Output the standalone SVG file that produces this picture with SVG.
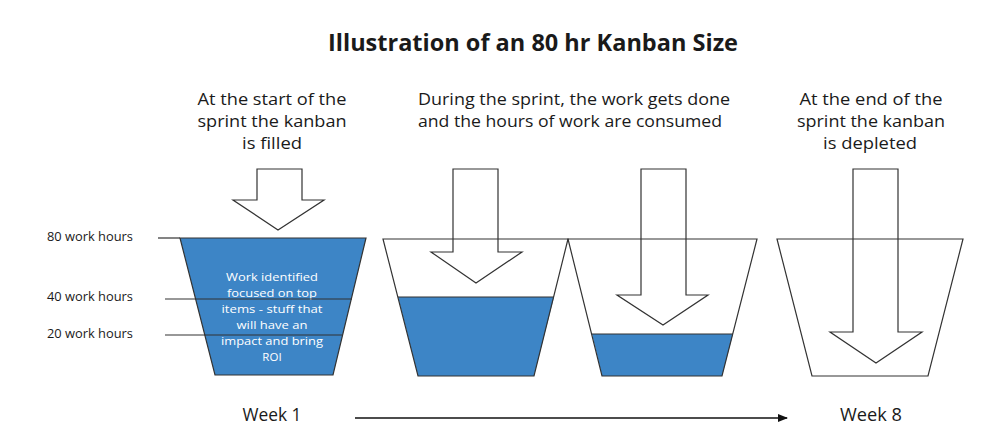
<svg xmlns="http://www.w3.org/2000/svg" width="997" height="438" viewBox="0 0 997 438">
<style>
text{font-family:"Open Sans","Liberation Sans",sans-serif;fill:#1a1a1a}
.title{font-size:24px;font-weight:bold;text-anchor:middle}
.cap{font-size:16px;text-anchor:middle}
.lbl{font-size:12.5px}
.in{font-size:11.5px;fill:#ffffff;text-anchor:middle}
.wk{font-size:18px;text-anchor:middle}
.arr{fill:#ffffff;stroke:#333;stroke-width:1.2}
.bkt{fill:none;stroke:#333;stroke-width:1.2}
.water{fill:#3d85c6}
.ln{stroke:#333;stroke-width:1.2;fill:none}
</style>
<defs>
<marker id="ah" markerWidth="10" markerHeight="8" refX="9" refY="4" orient="auto" markerUnits="userSpaceOnUse">
<path d="M0,0 L10,4 L0,8 Z" fill="#111"/>
</marker>
</defs>
<rect width="997" height="438" fill="#ffffff"/>
<g id="title"><text class="title" x="533" y="51" textLength="410" lengthAdjust="spacingAndGlyphs">Illustration of an 80 hr Kanban Size</text></g>
<g id="caption-start"><text class="cap" x="272" y="105" textLength="149" lengthAdjust="spacingAndGlyphs">At the start of the</text><text class="cap" x="272" y="127" textLength="149" lengthAdjust="spacingAndGlyphs">sprint the kanban</text><text class="cap" x="272" y="149" textLength="60" lengthAdjust="spacingAndGlyphs">is filled</text></g>
<g id="caption-during"><text class="cap" x="574" y="105" textLength="312" lengthAdjust="spacingAndGlyphs">During the sprint, the work gets done</text><text class="cap" x="570" y="127" textLength="304" lengthAdjust="spacingAndGlyphs">and the hours of work are consumed</text></g>
<g id="caption-end"><text class="cap" x="871" y="105" textLength="143" lengthAdjust="spacingAndGlyphs">At the end of the</text><text class="cap" x="871" y="127" textLength="148" lengthAdjust="spacingAndGlyphs">sprint the kanban</text><text class="cap" x="870" y="149" textLength="94" lengthAdjust="spacingAndGlyphs">is depleted</text></g>
<g id="arrow-1"><polygon class="arr" points="257,169 302,169 302,200 324,200 278,230 233,200 257,200"/></g>
<g id="arrow-2"><polygon class="arr" points="453,169 498,169 498,252 522,252 476,283 431,252 453,252"/></g>
<g id="arrow-3"><polygon class="arr" points="641,169 686,169 686,295 708,295 663,325 617,295 641,295"/></g>
<g id="arrow-4"><polygon class="arr" points="853,169 898,169 898,332 922,332 876,363 830,332 853,332"/></g>
<g id="bucket-1">
<polygon points="180,238 366,238 333,375 215,375" fill="#3d85c6" stroke="#333" stroke-width="1.2"/>
<text class="in" x="272" y="281" textLength="92" lengthAdjust="spacingAndGlyphs">Work identified</text>
<text class="in" x="272" y="297" textLength="90" lengthAdjust="spacingAndGlyphs">focused on top</text>
<text class="in" x="272" y="313" textLength="101" lengthAdjust="spacingAndGlyphs">items - stuff that</text>
<text class="in" x="272" y="329" textLength="71" lengthAdjust="spacingAndGlyphs">will have an</text>
<text class="in" x="272" y="345" textLength="102" lengthAdjust="spacingAndGlyphs">impact and bring</text>
<text class="in" x="272" y="361">ROI</text>
</g>
<g id="bucket-2"><polygon class="water" points="398,297 554,297 534,376 418,376"/><line class="ln" x1="398" y1="297" x2="554" y2="297"/><polygon class="bkt" points="383,239 568,239 534,376 418,376"/></g>
<g id="bucket-3"><polygon class="water" points="592,334 733,334 722,376 602,376"/><line class="ln" x1="592" y1="334" x2="733" y2="334"/><polygon class="bkt" points="568,239 757,239 722,376 602,376"/></g>
<g id="bucket-4"><polygon class="bkt" points="777,239 963,239 928,376 812,376"/></g>
<g id="levels">
<line class="ln" x1="158" y1="238" x2="180" y2="238"/>
<line class="ln" x1="165" y1="299" x2="352" y2="299"/>
<line class="ln" x1="165" y1="335" x2="342" y2="335"/>
<text class="lbl" x="47" y="241" textLength="86" lengthAdjust="spacingAndGlyphs">80 work hours</text>
<text class="lbl" x="47" y="301" textLength="86" lengthAdjust="spacingAndGlyphs">40 work hours</text>
<text class="lbl" x="47" y="338" textLength="86" lengthAdjust="spacingAndGlyphs">20 work hours</text>
</g>
<g id="connectors"><line x1="355" y1="418" x2="787" y2="418" stroke="#111" stroke-width="1.5" marker-end="url(#ah)"/></g>
<g id="week-1"><text class="wk" x="272" y="421" textLength="59" lengthAdjust="spacingAndGlyphs">Week 1</text></g>
<g id="week-8"><text class="wk" x="871" y="421" textLength="62" lengthAdjust="spacingAndGlyphs">Week 8</text></g>
</svg>
